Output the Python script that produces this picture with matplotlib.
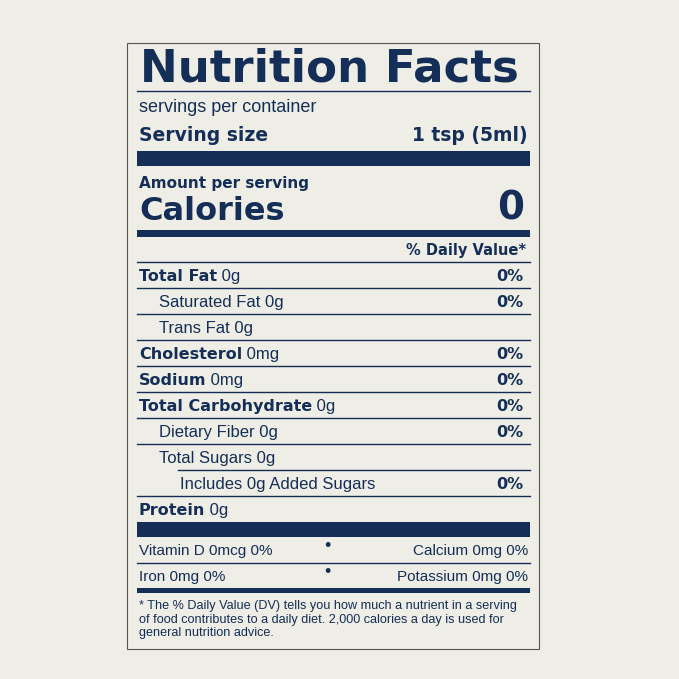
import matplotlib.pyplot as plt
from matplotlib.patches import Rectangle

NAVY = '#142e57'
BG = '#eeeee6'

title = "Nutrition Facts"
servings = "servings per container"
serving_size = ("Serving size", "1 tsp (5ml)")
calories = "0"

# (bold part, regular part, indent level, daily value)
nutrients = [
    ("Total Fat", " 0g", 0, "0%"),
    ("", "Saturated Fat 0g", 1, "0%"),
    ("", "Trans Fat 0g", 1, ""),
    ("Cholesterol", " 0mg", 0, "0%"),
    ("Sodium", " 0mg", 0, "0%"),
    ("Total Carbohydrate", " 0g", 0, "0%"),
    ("", "Dietary Fiber 0g", 1, "0%"),
    ("", "Total Sugars 0g", 1, ""),
    ("", "Includes 0g Added Sugars", 2, "0%"),
    ("Protein", " 0g", 0, ""),
]
vitamins = [("Vitamin D 0mcg 0%", "Calcium 0mg 0%"),
            ("Iron 0mg 0%", "Potassium 0mg 0%")]
footnote = ["* The % Daily Value (DV) tells you how much a nutrient in a serving",
            "of food contributes to a daily diet. 2,000 calories a day is used for",
            "general nutrition advice."]

plt.rcParams['font.family'] = ['Liberation Sans', 'DejaVu Sans']
HEAVY = ['DejaVu Sans']
fig = plt.figure(figsize=(6.79, 6.79), dpi=100)
fig.patch.set_facecolor(BG)
ax = fig.add_axes([0, 0, 1, 1])
ax.set_xlim(0, 679)
ax.set_ylim(679, 0)
ax.axis('off')

L, R = 137, 530

def bar(y0, y1, x0=L, x1=R):
    ax.add_patch(Rectangle((x0, y0), x1 - x0, y1 - y0, color=NAVY, lw=0))

def line(y, x0=L):
    ax.plot([x0, R], [y, y], color=NAVY, lw=1.0)

ax.add_patch(Rectangle((127, 43), 412, 606, fill=False, ec='#555555', lw=0.8))

ax.text(140, 82, title, fontsize=32.5, weight='bold', family=HEAVY, color=NAVY, va='baseline')
line(91)
ax.text(139, 112, servings, fontsize=13, color=NAVY, va='baseline')
ax.text(139, 141, serving_size[0], fontsize=13.5, weight='bold', family=HEAVY, color=NAVY, va='baseline')
ax.text(528, 141, serving_size[1], fontsize=13.5, weight='bold', family=HEAVY, color=NAVY, va='baseline', ha='right')
bar(151, 166)
ax.text(139, 188, "Amount per serving", fontsize=11, weight='bold', family=HEAVY, color=NAVY, va='baseline')
ax.text(139, 220, "Calories", fontsize=23, weight='bold', family=HEAVY, color=NAVY, va='baseline')
ax.text(524, 220, calories, fontsize=28, weight='bold', family=HEAVY, color=NAVY, va='baseline', ha='right')
bar(230, 237)
ax.text(526, 255, "% Daily Value*", fontsize=10.5, weight='bold', family=HEAVY, color=NAVY, va='baseline', ha='right')

indents = [139, 159, 180]
y = 262
step = 26
fig.canvas.draw()
for bold, reg, lvl, dv in nutrients:
    line(y, L if lvl < 2 else 178)
    yb = y + 19
    x = indents[lvl]
    if bold:
        t = ax.text(x, yb, bold, fontsize=11.5, weight='bold', family=HEAVY, color=NAVY, va='baseline')
        x = t.get_window_extent(renderer=fig.canvas.get_renderer()).x1
    ax.text(x, yb, reg, fontsize=12, color=NAVY, va='baseline')
    if dv:
        ax.text(523, yb, dv, fontsize=11.5, weight='bold', family=HEAVY, color=NAVY, va='baseline', ha='right')
    y += step

bar(522, 537)
for i, (a, b) in enumerate(vitamins):
    yb = 555 + i * 26
    ax.text(139, yb, a, fontsize=11, color=NAVY, va='baseline')
    ax.text(528, yb, b, fontsize=11, color=NAVY, va='baseline', ha='right')
    ax.text(327, yb - 4, "\u2022", fontsize=13, color=NAVY, va='baseline', ha='center')
line(563)
bar(588, 593)
for i, s in enumerate(footnote):
    ax.text(139, 609 + i * 13.5, s, fontsize=9.1, color=NAVY, va='baseline')

fig.savefig("out.png", dpi=100, facecolor=BG)
